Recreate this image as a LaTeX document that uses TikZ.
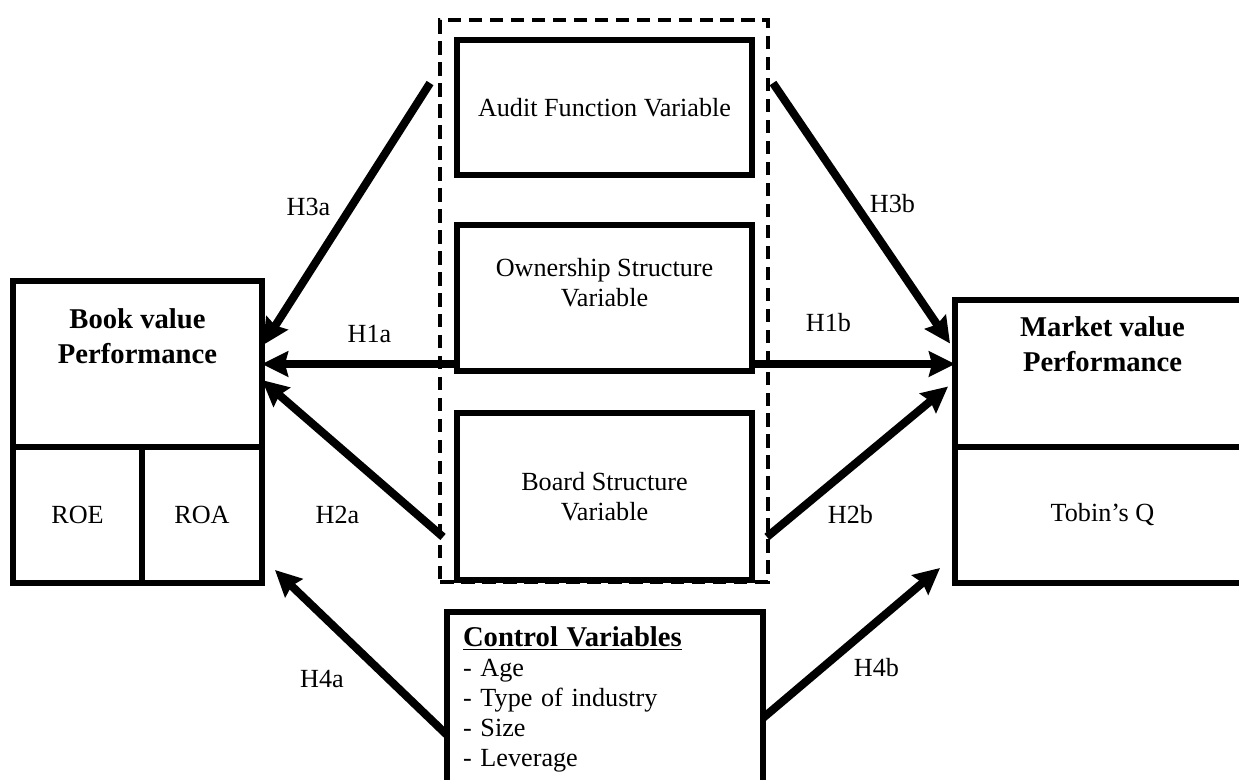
\documentclass[tikz,border=0pt]{standalone}
\usepackage{fontspec}
\setmainfont{Liberation Serif}
\usetikzlibrary{arrows.meta,positioning,calc}

\tikzset{
	box/.style={draw, line width=3.2pt, outer sep=0pt, align=center},
	grpbox/.style={draw, line width=1.9pt, outer sep=0pt, dash pattern=on 0.27cm off 0.15cm},
	title/.style={font=\fontsize{16.3}{19.8}\selectfont\bfseries, align=center},
	arr/.style={line width=4.6pt, -{Stealth[length=0.52cm,width=0.5cm,inset=0.06cm]}}
}

\begin{document}
\begin{tikzpicture}[x=0.02cm, y=-0.02cm, font=\fontsize{14.9}{17}\selectfont]
	\useasboundingbox (0,0) rectangle (1239,779);
	\clip (0,0) rectangle (1239,779);

	% book value side
	\node[box, minimum width=4.98cm, minimum height=3.32cm] (bookT) at (137.5,364) {};
	\node[title] (bookL) at ($(bookT.north)+(0,55)$) {Book value\\Performance};
	\node[box, minimum width=2.58cm, minimum height=2.72cm, below right=0cm and 0cm of bookT.south west] (roe) {ROE};
	\node[box, minimum width=2.40cm, minimum height=2.72cm, right=0cm of roe] (roa) {ROA};

	% market value side
	\node[box, minimum width=5.9cm, minimum height=2.94cm] (mktT) at (1102.5,373.5) {};
	\node[title] (mktL) at ($(mktT.north)+(0,44.5)$) {Market value\\Performance};
	\node[box, minimum width=5.9cm, minimum height=2.72cm, below=0cm of mktT] (tobin) {Tobin's Q};

	% governance variables
	\node[grpbox, minimum width=6.56cm, minimum height=11.24cm] (grp) at (604,301) {};
	\node[box, minimum width=5.9cm, minimum height=2.7cm] (audit) at (604.5,107.5) {Audit Function Variable};
	\node[box, minimum width=5.9cm, minimum height=2.92cm, below=1cm of audit] (own) {};
	\node[align=center] (ownL) at ($(own.north)+(0,58)$) {Ownership Structure\\Variable};
	\node[box, minimum width=5.9cm, minimum height=3.34cm, below=0.84cm of own] (board) {Board Structure\\Variable};

	% control variables
	\node[box, anchor=north, text width=5.68cm, align=left, inner xsep=0.32cm, inner ysep=0.3cm] (ctrl) at (605,612)
		{\underline{\fontsize{16.3}{17}\selectfont\bfseries Control Variables}\\- Age\\- Type of industry\\- Size\\- Leverage};

	\path[arr]
	($(grp.north west)+(-10,63)$) edge node[shift={(-38,-7)}] {H3a} ($(bookT.east)+(1,-19)$)
	(bookT.east -| own.west) edge node[shift={(10,-30)}] {H1a} (bookT.east)
	($(grp.south west)+(3,-45)$) edge node[shift={(-15,56)}] {H2a} ($(bookT.east)+(0,16)$)
	($(ctrl.north west)+(0,123)$) edge node[shift={(-39,27)}] {H4a} ($(roa.south east)+(13,-13)$)
	($(grp.north east)+(5,63)$) edge node[shift={(31,-10)}] {H3b} ($(mktT.west)+(-5,-30)$)
	(bookT.east -| own.east) edge node[shift={(-25,-41)}] {H1b} (bookT.east -| mktT.west)
	($(grp.south east)+(-1,-45)$) edge node[shift={(-7,53)}] {H2b} ($(mktT.west)+(-7,13)$)
	($(ctrl.north east)+(0,106)$) edge node[shift={(25,25)}] {H4b} ($(tobin.south west)+(-15,-15)$);
\end{tikzpicture}
\end{document}
